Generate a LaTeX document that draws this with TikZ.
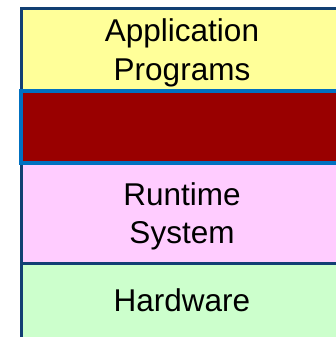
\documentclass[tikz,border=0pt]{standalone}
\usepackage{fontspec}
\setmainfont{Liberation Sans}
\usepackage{xcolor}
\definecolor{appyellow}{HTML}{FFFF99}
\definecolor{osred}{HTML}{990000}
\definecolor{rtpink}{HTML}{FFCCFF}
\definecolor{hwgreen}{HTML}{CCFFCC}
\definecolor{framenavy}{HTML}{123F73}
\definecolor{edgeblue}{HTML}{0070C0}

\begin{document}
\begin{tikzpicture}[x=1pt,y=-1pt,layer/.style={rectangle,anchor=north west,inner sep=0pt,outer sep=0pt,minimum width=322pt,align=center,text depth=0pt,font=\fontsize{31.5}{38.4}\selectfont},frame/.style={draw=framenavy,line width=3pt,line cap=rect}]
\useasboundingbox (0,0) rectangle (336,337);
                \node[layer,fill=appyellow,minimum height=82.5pt] (app) at (21,8.5) {Application\\Programs};
                \node[layer,fill=rtpink,minimum height=100.5pt] (rt) at (21,163) {Runtime\\System};
                \node[layer,fill=hwgreen,minimum height=74pt] (hw) at (21,263.5) {Hardware};

                \draw[frame] (app.north west) -- (app.north east);
                \draw[frame] (app.north west) -- (hw.south west);
                \draw[frame] (hw.north west) -- (hw.north east);

                \node[layer,fill=osred,draw=edgeblue,line width=4pt,minimum height=72pt] (os) at (21,91) {};
            \end{tikzpicture}
\end{document}
